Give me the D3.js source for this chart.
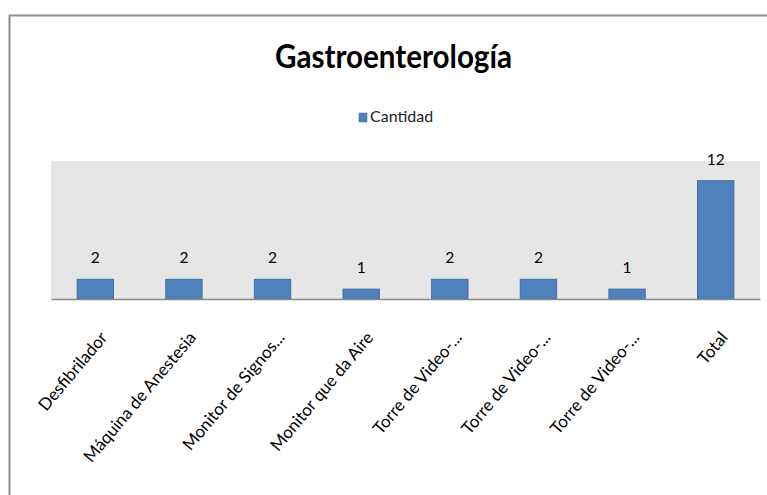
<!DOCTYPE html>
<html>
<head>
<meta charset="utf-8">
<script src="https://d3js.org/d3.v7.min.js"></script>
<style>
  body { margin: 0; background: #fff; }
  svg { display: block; font-family: Lato, "Open Sans", sans-serif; }
</style>
</head>
<body>
<svg></svg>
<script>
let categories = ["Desfibrilador", "Máquina de Anestesia", "Monitor de Signos...", "Monitor que da Aire",
                  "Torre de Video-...", "Torre de Video-...", "Torre de Video-...", "Total"];
let values = [2, 2, 2, 1, 2, 2, 1, 12];
let seriesName = "Cantidad";
let title = "Gastroenterología";

let width = 767;
let height = 495;
let plot = {left: 51, right: 760, top: 161, bottom: 299};
let svg = d3.select("svg");

let drawCanvas = () => {
    svg.attr("width", width).attr("height", height);
    // frame of the chart object (only top and left edge show)
    svg.append("path")
        .attr("d", "M9.5,495 V15.5 H767")
        .attr("fill", "none")
        .attr("stroke", "#8c8c8c")
        .attr("stroke-width", 2);

    svg.append("text")
        .attr("x", 393.5)
        .attr("y", 68)
        .attr("text-anchor", "middle")
        .attr("font-size", 32)
        .attr("font-weight", "bold")
        .attr("textLength", 237)
        .attr("lengthAdjust", "spacingAndGlyphs")
        .attr("fill", "#000")
        .text(title);

    let legend = svg.append("g").attr("transform", "translate(359,113)");
    legend.append("rect")
        .attr("width", 8).attr("height", 9)
        .attr("fill", "#4f81bd").attr("stroke", "#3c6a9e").attr("stroke-width", 0.5);
    legend.append("text")
        .attr("x", 11).attr("y", 9)
        .attr("font-size", 16)
        .attr("fill", "#222")
        .text(seriesName);
}

let idx = d3.range(categories.length);
let xScale = d3.scaleBand()
    .domain(idx)
    .range([plot.left, plot.right])
    .paddingInner(0.59)
    .paddingOuter(0.295);

let yScale = d3.scaleLinear()
    .domain([0, 14])
    .range([plot.bottom, plot.top]);

let drawPlot = () => {
    svg.append("rect")
        .attr("x", plot.left).attr("y", plot.top)
        .attr("width", plot.right - plot.left)
        .attr("height", plot.bottom - plot.top)
        .attr("fill", "#e6e6e6");

    svg.append("g")
        .selectAll("rect")
        .data(idx)
        .join("rect")
        .attr("x", i => xScale(i))
        .attr("y", i => yScale(values[i]))
        .attr("width", xScale.bandwidth())
        .attr("height", i => yScale(0) - yScale(values[i]))
        .attr("fill", "#4f81bd")
        .attr("stroke", "#3f6fa3")
        .attr("stroke-width", 1);

    svg.append("g")
        .selectAll("text")
        .data(idx)
        .join("text")
        .attr("x", i => xScale(i) + xScale.bandwidth() / 2)
        .attr("y", i => yScale(values[i]) - 16)
        .attr("text-anchor", "middle")
        .attr("font-size", 15.5)
        .attr("fill", "#000")
        .text(i => values[i]);
}

let drawAxis = () => {
    let xAxis = d3.axisBottom(xScale)
        .tickSize(0)
        .tickFormat(i => categories[i]);

    let g = svg.append("g")
        .attr("transform", "translate(0," + plot.bottom + ")")
        .call(xAxis);
    g.select(".domain").attr("stroke", "#888").attr("stroke-width", 1.5);
    g.selectAll("text")
        .attr("font-family", "Lato, sans-serif")
        .attr("font-size", 17)
        .attr("fill", "#000")
        .attr("text-anchor", "end")
        .attr("dy", null)
        .attr("y", 0)
        .attr("transform", "translate(13,39) rotate(-50)");
}

drawCanvas();
drawPlot();
drawAxis();
</script>
</body>
</html>
